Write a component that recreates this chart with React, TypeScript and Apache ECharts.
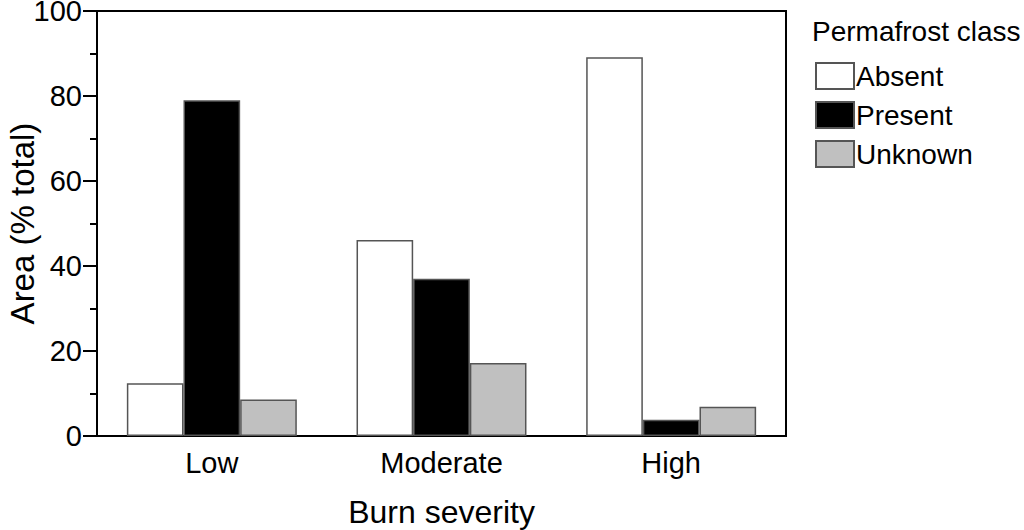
import React, { useEffect, useRef } from "react";
import * as echarts from "echarts";

const categories = ["Low", "Moderate", "High"];
const seriesNames = ["Absent", "Present", "Unknown"];
const absent = [12.4, 46.1, 89.1];
const present = [79.0, 37.0, 3.8];
const unknown = [8.6, 17.2, 6.9];
const yTicks = { min: 0, max: 100, interval: 20 };

const FONT = "Liberation Sans, Arial, sans-serif";

export default function App() {
  const ref = useRef<HTMLDivElement>(null);
  useEffect(() => {
    document.body.style.margin = "0";
    const chart = echarts.init(ref.current!, undefined, { renderer: "svg" });
    const colors = ["#ffffff", "#000000", "#c0c0c0"];
    const data = [absent, present, unknown];
    chart.setOption({
      animation: false,
      textStyle: { fontFamily: FONT },
      grid: {
        left: 97,
        top: 11,
        right: 1024 - 786,
        bottom: 530 - 436,
        containLabel: false,
        outerBoundsMode: "none",
        show: true,
        borderColor: "#000",
        borderWidth: 2,
        backgroundColor: "transparent",
      },
      title: {
        text: "Permafrost class",
        left: 807,
        top: 12,
        textStyle: { fontFamily: FONT, fontSize: 28, fontWeight: "normal", color: "#000" },
      },
      legend: {
        orient: "vertical",
        left: 810,
        top: 57,
        itemWidth: 38,
        itemHeight: 26,
        itemGap: 11,
        icon: "rect",
        data: seriesNames,
        textStyle: { fontFamily: FONT, fontSize: 28, color: "#000", padding: [0, 0, 0, -3] },
      },
      xAxis: {
        type: "category",
        data: categories,
        axisLine: { lineStyle: { color: "#000", width: 2 } },
        axisTick: { show: false },
        axisLabel: { fontSize: 29, color: "#000", margin: 12, fontFamily: FONT },
        name: "Burn severity",
        nameLocation: "middle",
        nameGap: 60,
        nameMoveOverlap: false,
        nameTextStyle: { fontSize: 32, color: "#000", fontFamily: FONT },
      },
      yAxis: {
        type: "value",
        min: yTicks.min,
        max: yTicks.max,
        interval: yTicks.interval,
        axisLine: { show: true, lineStyle: { color: "#000", width: 2 } },
        axisTick: { show: true, length: 14, lineStyle: { color: "#000", width: 2 } },
        minorTick: { show: true, splitNumber: 2, length: 7, lineStyle: { color: "#000", width: 2 } },
        splitLine: { show: false },
        axisLabel: { fontSize: 29, lineHeight: 22, color: "#000", margin: 15, fontFamily: FONT },
        name: "Area (% total)",
        nameLocation: "middle",
        nameGap: 58,
        nameMoveOverlap: false,
        nameTextStyle: { fontSize: 33, color: "#000", fontFamily: FONT },
      },
      series: seriesNames.map((n, i) => ({
        name: n,
        type: "bar",
        data: data[i],
        barGap: "0%",
        barCategoryGap: "26%",
        itemStyle: { color: colors[i], borderColor: "#555", borderWidth: 1.5 },
      })),
    });
    return () => chart.dispose();
  }, []);
  return <div ref={ref} style={{ width: 1024, height: 530 }} />;
}
